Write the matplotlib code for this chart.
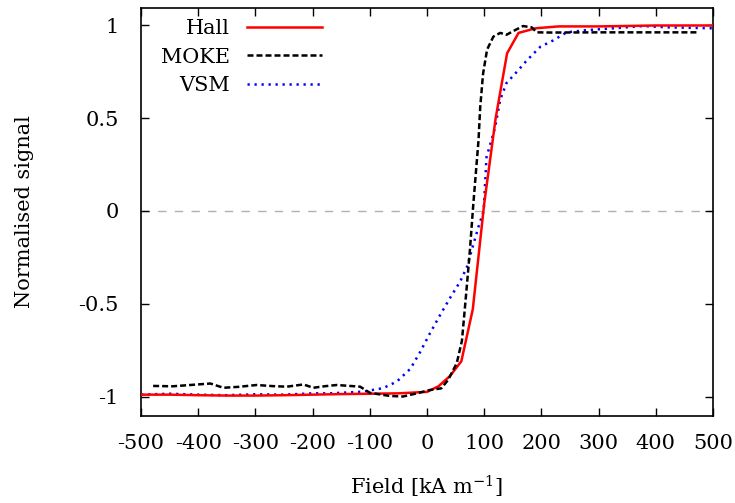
import matplotlib.pyplot as plt
import numpy as np

plt.rcParams['font.family'] = 'DejaVu Serif'
plt.rcParams['mathtext.fontset'] = 'dejavuserif'
plt.rcParams['axes.unicode_minus'] = False

# Hall signal
hall_x = [-500, -450, -400, -350, -300, -250, -200, -150, -100, -50, 0,
          20, 40, 60, 80, 100, 120, 140, 160, 190, 230, 300, 400, 500]
hall_y = [-0.99, -0.99, -0.993, -0.995, -0.995, -0.993, -0.99, -0.987, -0.985, -0.983, -0.975,
          -0.945, -0.89, -0.81, -0.53, 0.04, 0.50, 0.85, 0.96, 0.985, 0.995, 0.995, 1.0, 1.0]

# MOKE signal
moke_x = [-479, -445, -414, -379, -356, -330, -298, -270, -245, -216, -199, -180, -158,
          -117, -100, -65, -42, -18, 5, 25, 37, 52, 61, 66, 70, 75, 78, 81,
          90, 93, 98, 105, 116, 128, 139, 154, 168, 183, 192, 215, 300, 400, 472]
moke_y = [-0.943, -0.945, -0.938, -0.93, -0.953, -0.948, -0.938, -0.944, -0.947, -0.935, -0.953, -0.945, -0.938,
          -0.947, -0.98, -0.997, -1.0, -0.983, -0.965, -0.956, -0.91, -0.82, -0.70, -0.53, -0.39, -0.21, -0.085, 0.04,
          0.38, 0.56, 0.74, 0.87, 0.94, 0.96, 0.95, 0.975, 0.997, 0.99, 0.963, 0.962, 0.963, 0.963, 0.963]

# VSM signal
vsm_x = [-500, -450, -400, -350, -300, -250, -200, -170, -112, -77, -53, -29, -12, 5, 23, 40,
         58, 70, 81, 90, 99, 104, 119, 128, 139, 157, 174, 198, 221, 244, 279, 326, 378, 420, 498]
vsm_y = [-0.99, -0.985, -0.99, -0.993, -0.988, -0.99, -0.983, -0.983, -0.974, -0.955, -0.92, -0.85, -0.76, -0.66, -0.56, -0.47,
         -0.38, -0.30, -0.18, -0.085, 0.0, 0.29, 0.45, 0.60, 0.69, 0.75, 0.81, 0.885, 0.92, 0.963, 0.975, 0.985, 0.997, 0.99, 0.985]

fig = plt.figure(figsize=(7.35, 5.03), dpi=100)
ax = fig.add_axes([0.192, 0.173, 0.778, 0.811])

ax.axhline(0, color='#b0b0b0', lw=1.0, ls=(0, (6, 6)), zorder=1)

ax.plot(hall_x, hall_y, color='red', lw=1.8, label='Hall', zorder=3)
ax.plot(moke_x, moke_y, color='black', lw=1.8, ls=(0, (2.4, 1.2)), label='MOKE', zorder=4)
ax.plot(vsm_x, vsm_y, color='blue', lw=1.8, ls=(0, (0.9, 1.9)), label='VSM', zorder=2)

ax.set_xlim(-500, 500)
ax.set_ylim(-1.105, 1.094)
ax.set_xticks(np.arange(-500, 501, 100))
ax.set_yticks([-1, -0.5, 0, 0.5, 1])
ax.set_yticklabels(['-1', '-0.5', '0', '0.5', '1'])
ax.tick_params(direction='in', top=True, right=True, length=6, width=1,
               labelsize=15)
ax.tick_params(axis='x', pad=13)
ax.tick_params(axis='y', pad=16)
for s in ax.spines.values():
    s.set_linewidth(1.2)

ax.set_xlabel(r'Field [kA m$^{-1}$]', fontsize=15, labelpad=15)
ax.set_ylabel('Normalised signal', fontsize=15, labelpad=32)

ax.legend(loc='upper left', frameon=False, markerfirst=False, fontsize=15,
          handlelength=3.6, labelspacing=0.45, borderaxespad=0.0,
          bbox_to_anchor=(0.02, 0.993))

fig.savefig('out.png', dpi=100)
